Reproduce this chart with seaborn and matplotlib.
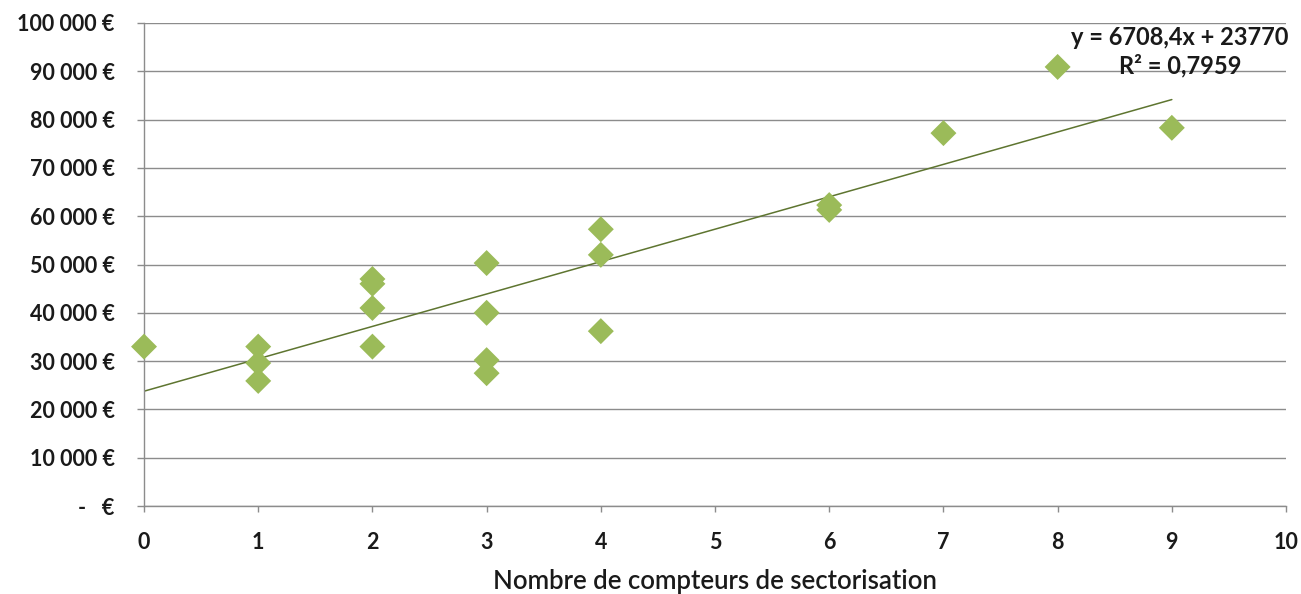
import numpy as np
import pandas as pd
import matplotlib
matplotlib.use("Agg")
import matplotlib.pyplot as plt
import seaborn as sns

# Number of sector meters vs cost
compteurs = [0, 1, 1, 1, 2, 2, 2, 2, 3, 3, 3, 3, 4, 4, 4, 6, 6, 7, 8, 9]
couts = [33000, 33000, 29600, 25900, 47000, 46000, 41000, 33000,
         50300, 40000, 30200, 27500, 57300, 52000, 36200, 62300, 61300,
         77200, 90900, 78300]

# Linear trend stated in the equation label
pente = 6708.4
ordonnee = 23770
r2 = 0.7959
trend_x = [0, 9]

y_ticks = list(range(0, 100001, 10000))
x_ticks = list(range(0, 11))

def euro(v):
    if v == 0:
        return "-   €"
    return f"{v:,}".replace(",", " ") + " €"

y_labels = [euro(v) for v in y_ticks]

sns.set_theme(style="white")
plt.rcParams["font.family"] = ["Lato", "DejaVu Sans"]

fig = plt.figure(figsize=(13.01, 5.94), dpi=100)
ax = fig.add_axes([0.1107, 0.1481, 0.8778, 0.8132])

df = pd.DataFrame({"x": compteurs, "y": couts})
trend = pd.DataFrame({"x": trend_x, "y": [ordonnee + pente * t for t in trend_x]})

sns.lineplot(data=trend, x="x", y="y", ax=ax, color="#5E7530", linewidth=1.1, zorder=2)
sns.scatterplot(data=df, x="x", y="y", ax=ax, marker="D", s=175, color="#9BBB59",
                edgecolor="none", linewidth=0, zorder=3, clip_on=False)

ax.set_xlim(0, 10)
ax.set_ylim(0, 100000)
ax.set_xticks(x_ticks)
ax.set_xticklabels([str(v) for v in x_ticks], fontsize=15.5, fontweight="bold", color="#1a1a1a")
ax.set_yticks(y_ticks)
ax.set_yticklabels(y_labels, fontsize=15.5, fontweight="bold", color="#1a1a1a")

ax.yaxis.grid(True, color="#8c8c8c", linewidth=1.0, zorder=0)
ax.xaxis.grid(False)
ax.set_axisbelow(True)

for side in ["top", "right"]:
    ax.spines[side].set_visible(False)
for side in ["left", "bottom"]:
    ax.spines[side].set_color("#8c8c8c")
    ax.spines[side].set_linewidth(1.0)

ax.tick_params(axis="y", which="major", direction="out", length=5, width=1,
               color="#8c8c8c", pad=16, left=True)
ax.tick_params(axis="x", which="major", direction="out", length=4, width=1,
               color="#8c8c8c", pad=15, bottom=True)

ax.set_xlabel("Nombre de compteurs de sectorisation", fontsize=18.5,
              fontweight="semibold", color="#1a1a1a", labelpad=11)
ax.set_ylabel("")

eq = f"y = {pente:.1f}x + {ordonnee}".replace(".", ",")
rr = f"R² = {r2:.4f}".replace(".", ",")
ax.text(9.07, 96900, eq, ha="center", va="center", fontsize=17,
        fontweight="bold", color="#1a1a1a", clip_on=False)
ax.text(9.07, 91100, rr, ha="center", va="center", fontsize=17,
        fontweight="bold", color="#1a1a1a", clip_on=False)

fig.savefig("out.png", dpi=100)
